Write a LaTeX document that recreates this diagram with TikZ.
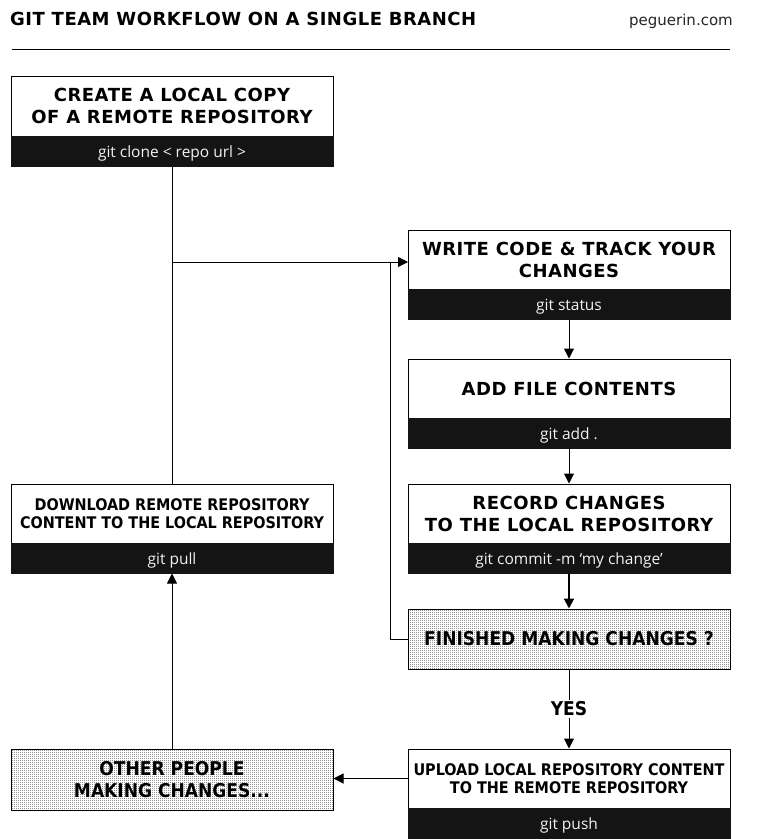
\documentclass[tikz,border=0pt]{standalone}
\usepackage{fontspec}
\setmainfont{DejaVu Sans}
\newfontfamily\hdfont{DejaVu Sans}[LetterSpace=2.8]
\newfontfamily\cndfont{DejaVu Sans Condensed}
\newfontfamily\cmdfont{Open Sans}
\usetikzlibrary{arrows.meta,patterns,calc}
\pgfdeclarepatternformonly{finedots}{\pgfqpoint{0pt}{0pt}}{\pgfqpoint{2pt}{2pt}}{\pgfqpoint{2pt}{2pt}}{\pgfpathrectangle{\pgfqpoint{0pt}{0pt}}{\pgfqpoint{1pt}{1pt}}\pgfusepath{fill}}
\definecolor{bandc}{HTML}{141414}
\definecolor{bandtext}{HTML}{F2F2F2}
\tikzset{
  head/.style={draw=black, line width=1pt, fill=white, minimum width=322, inner sep=0, align=center, text=black,
    font=\fontsize{18}{22}\selectfont\hdfont\bfseries},
  headc/.style={head, font=\fontsize{16}{18}\selectfont\cndfont\bfseries},
  band/.style={draw=bandc, line width=1pt, fill=bandc, minimum width=322, minimum height=30, inner sep=0, text=bandtext,
    text height=12pt, text depth=0pt,
    font=\fontsize{15.5}{17}\selectfont\cmdfont},
  dotbox/.style={draw=black, line width=1pt, minimum width=322, inner sep=0, align=center, text=black,
    pattern=finedots, pattern color=black,
    font=\fontsize{19}{22}\selectfont\cndfont\bfseries},
  conn/.style={line width=1pt, draw=black},
  arr/.style={conn, -{Triangle[length=10pt,width=10pt]}},
}
\begin{document}
\begin{tikzpicture}[x=1pt,y=-1pt]
\useasboundingbox (0,0) rectangle (759,839);
\fill[white] (0,0) rectangle (759,839);
% header
\node[anchor=base west, inner sep=0, font=\fontsize{18}{20}\selectfont\hdfont\bfseries] (title) at (10,25.5) {GIT TEAM WORKFLOW ON A SINGLE BRANCH};
\node[anchor=base east, inner sep=0, font=\fontsize{15}{18}\selectfont, text=black!85] (site) at (733,25) {peguerin.com};
\coordinate (rl) at (12,49);
\coordinate (rr) at (730,49);
\draw[conn] (rl) -- (rr);
% box 1
\node[head, minimum height=60] (b1) at (172,106) {CREATE A LOCAL COPY\\ OF A REMOTE REPOSITORY};
\node[band] (b1c) at (172,151) {git clone < repo url >};
% box 2
\node[head, minimum height=59] (b2) at (569,259.5) {WRITE CODE \& TRACK YOUR\\CHANGES};
\node[band] (b2c) at (569,304) {git status};
% box 3
\node[head, minimum height=59] (b3) at (569,388.5) {ADD FILE CONTENTS};
\node[band] (b3c) at (569,433) {git add .};
% box 4
\node[head, minimum height=59] (b4) at (569,513.5) {RECORD CHANGES\\TO THE LOCAL REPOSITORY};
\node[band] (b4c) at (569,558) {git commit -m ‘my change’};
% box 7
\node[headc, minimum height=59] (b7) at (172,513.5) {DOWNLOAD REMOTE REPOSITORY\\CONTENT TO THE LOCAL REPOSITORY};
\node[band] (b7c) at (172,558) {git pull};
% box 5
\node[dotbox, minimum height=60] (b5) at (569,639) {FINISHED MAKING CHANGES ?};
% box 6
\node[headc, minimum height=59] (b6) at (569,778.5) {UPLOAD LOCAL REPOSITORY CONTENT\\TO THE REMOTE REPOSITORY};
\node[band, minimum height=31] (b6c) at (569,823.5) {git push};
% box 8
\node[dotbox, minimum height=61] (b8) at (172,779.5) {OTHER PEOPLE\\MAKING CHANGES...};
% connectors
\coordinate (j1) at (172,262);
\coordinate (in2) at (408,262);
\coordinate (loop) at (390,262);
\draw[arr] (b1c.south) -- (j1) -- (in2);
\draw[conn] (b7.north) -- (j1);
\draw[conn] (b5.west) -| (loop);
\draw[arr] (b2c.south) -- (b3.north);
\draw[arr] (b3c.south) -- (b4.north);
\draw[arr, line width=2pt] (b4c.south) -- (b5.north);
\draw[arr] (b5.south) -- node[fill=white, inner sep=1.5pt, font=\fontsize{19}{22}\selectfont\cndfont\bfseries] (yes) {YES} (b6.north);
\draw[arr] (b6.west) -- (b6.west -| b8.east);
\draw[arr] (b8.north) -- (b7c.south);
\end{tikzpicture}
\end{document}
